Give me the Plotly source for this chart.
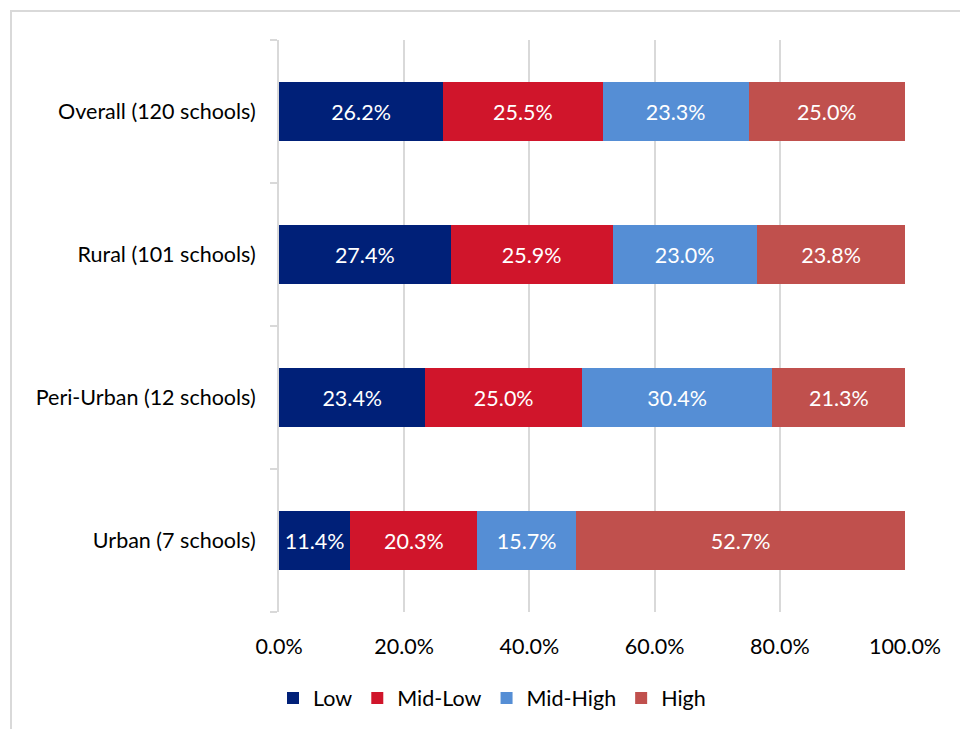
import plotly.graph_objects as go

# Share of schools in each band, by location (percent)
categories = ["Overall (120 schools)", "Rural (101 schools)",
              "Peri-Urban (12 schools)", "Urban (7 schools)"]
series_names = ["Low", "Mid-Low", "Mid-High", "High"]
low = [26.2, 27.4, 23.4, 11.4]
mid_low = [25.5, 25.9, 25.0, 20.3]
mid_high = [23.3, 23.0, 30.4, 15.7]
high = [25.0, 23.8, 21.3, 52.7]
x_ticks = [0, 20, 40, 60, 80, 100]
x_tick_labels = ["0.0%", "20.0%", "40.0%", "60.0%", "80.0%", "100.0%"]

colors = ["#002078", "#D0152B", "#558ED5", "#C0504D"]
FONT = "Lato, Calibri, sans-serif"
FS = 21.5

W, H = 960, 729
L, R, T, B = 279, 55, 40, 116
pw, ph = W - L - R, H - T - B

fig = go.Figure()
for name, vals, col in zip(series_names, [low, mid_low, mid_high, high], colors):
    fig.add_trace(go.Bar(
        y=categories, x=vals, name=name, orientation="h",
        marker=dict(color=col, line=dict(width=0)),
        texttemplate="%{x:.1f}%", textposition="inside",
        insidetextanchor="middle", textangle=0,
        textfont=dict(color="white", size=FS, family=FONT),
        cliponaxis=True,
    ))

def px_x(px):
    return (px - L) / pw

def px_y(py):
    return (H - B - py) / ph

fig.update_layout(
    width=W, height=H,
    margin=dict(l=L, r=R, t=T, b=B),
    barmode="stack", bargap=0.59,
    paper_bgcolor="white", plot_bgcolor="white",
    font=dict(family=FONT, size=FS, color="#000000"),
    uniformtext=dict(minsize=FS, mode="show"),
    xaxis=dict(range=[0, 100], tickvals=x_ticks, ticktext=x_tick_labels,
               showgrid=True, gridcolor="#d9d9d9",
               gridwidth=2, zeroline=False, showline=False,
               ticks="", ticklabelstandoff=19, tickfont=dict(size=FS)),
    yaxis=dict(categoryorder="array", categoryarray=categories[::-1],
               showline=True, linecolor="#d9d9d9", linewidth=2,
               ticks="outside", tickson="boundaries", ticklen=7,
               tickcolor="#d9d9d9", tickwidth=2, ticklabelstandoff=17,
               showgrid=False, tickfont=dict(size=FS)),
    legend=dict(orientation="h", x=px_x(492), xanchor="center",
                y=px_y(698), yanchor="middle", font=dict(size=FS),
                traceorder="normal", itemwidth=30, tracegroupgap=0),
    shapes=[dict(type="rect", xref="paper", yref="paper",
                 x0=px_x(11), x1=px_x(1100), y0=px_y(900), y1=px_y(11),
                 line=dict(color="#d9d9d9", width=2), layer="below")],
    showlegend=True,
)

fig.write_html("out.html")
